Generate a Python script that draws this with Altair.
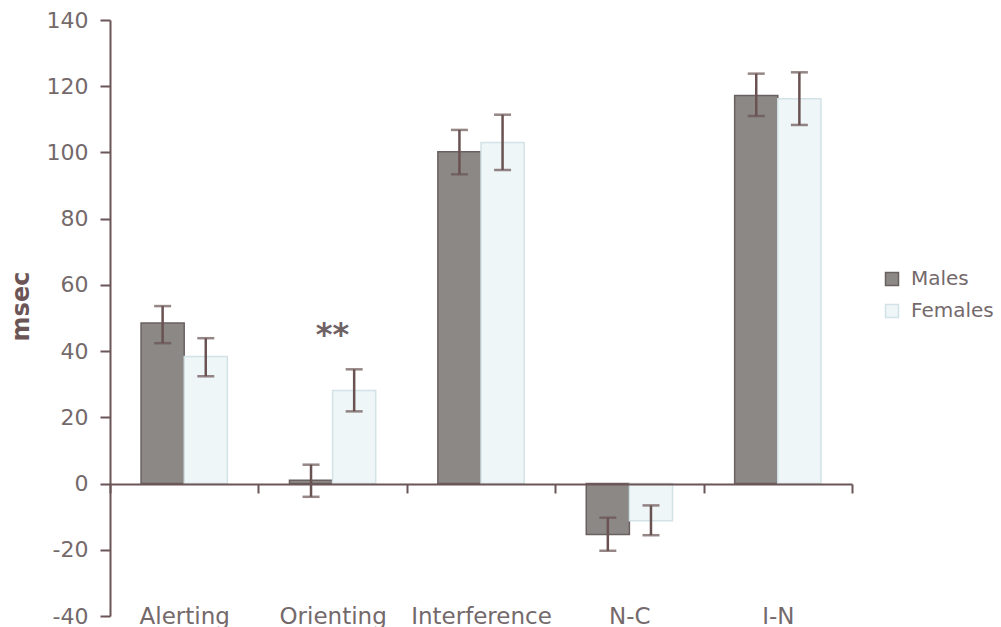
import altair as alt
import pandas as pd

categories = ["Alerting", "Orienting", "Interference", "N-C", "I-N"]
groups = ["Males", "Females"]
males = [48.5, 1.0, 100.2, -15.4, 117.2]
males_lo = [42.4, -4.0, 93.4, -20.3, 111.0]
males_hi = [53.6, 5.7, 106.8, -10.3, 123.8]
females = [38.4, 28.1, 103.0, -11.2, 116.2]
females_lo = [32.4, 21.8, 94.7, -15.6, 108.3]
females_hi = [43.9, 34.5, 111.4, -6.6, 124.2]
y_ticks = [-40, -20, 0, 20, 40, 60, 80, 100, 120, 140]
star_task = ["Orienting"]
star_text = ["**"]
star_y = [45]

rows = []
for i, c in enumerate(categories):
    rows.append({"Task": c, "Sex": "Males", "value": males[i], "lo": males_lo[i], "hi": males_hi[i]})
    rows.append({"Task": c, "Sex": "Females", "value": females[i], "lo": females_lo[i], "hi": females_hi[i]})
df = pd.DataFrame(rows)
stars = pd.DataFrame({"Task": star_task, "text": star_text, "value": star_y})

FONT = "DejaVu Sans"
AX = "#6b5556"
LAB = "#74696b"

xaxis = alt.Axis(orient="bottom", offset=-132, tickBand="extent", tickSize=9, tickWidth=2,
                 tickColor=AX, domainColor=AX, domainWidth=2, labelPadding=130,
                 labelBaseline="alphabetic", labelFontSize=23, labelFont=FONT,
                 labelColor=LAB, labelAngle=0, title=None, zindex=1, grid=False)
X = alt.X("Task:N", sort=categories, scale=alt.Scale(paddingInner=0, paddingOuter=0), axis=xaxis)
XO = alt.XOffset("Sex:N", sort=groups, scale=alt.Scale(paddingInner=0, paddingOuter=0.72))

yaxis = alt.Axis(values=y_ticks, tickSize=10, tickWidth=2, tickColor=AX, domainColor=AX,
                 domainWidth=2, labelPadding=12, labelFontSize=22, labelFont=FONT,
                 labelColor=LAB, grid=False, title="msec", titleFontSize=24,
                 titleFont=FONT, titleFontWeight="bold", titleColor=AX,
                 titleX=-89, titleY=286, titleAngle=270, titleBaseline="middle",
                 labelExpr="'' + datum.value")
yscale = alt.Scale(domain=[-40, 140], nice=False)


def Y(field):
    return alt.Y(f"{field}:Q", scale=yscale, axis=yaxis)


legend = alt.Legend(orient="none", legendX=772, legendY=249, title=None, labelFontSize=20,
                    labelFont=FONT, labelColor=LAB, symbolType="square", symbolSize=169,
                    labelOffset=9, rowPadding=12, symbolStrokeWidth=1.5, labelLimit=300)

fill = alt.Fill("Sex:N", sort=groups, scale=alt.Scale(domain=groups, range=["#8b8886", "#eef6f7"]), legend=legend)
stroke = alt.Stroke("Sex:N", sort=groups, scale=alt.Scale(domain=groups, range=["#6a6060", "#d3e2e6"]), legend=legend)

base = alt.Chart(df).encode(x=X, xOffset=XO)

bars = base.mark_bar(strokeWidth=1.5).encode(y=Y("value"), y2=alt.datum(0), fill=fill, stroke=stroke)
rule = base.mark_rule(color="#6a5252", strokeWidth=2.5).encode(y=Y("lo"), y2="hi:Q")
cap_lo = base.mark_tick(color="#6a5252", orient="horizontal", size=17, thickness=2.5).encode(y=Y("lo"))
cap_hi = base.mark_tick(color="#6a5252", orient="horizontal", size=17, thickness=2.5).encode(y=Y("hi"))
star = alt.Chart(stars).mark_text(fontSize=32, font=FONT, color="#6e6264", baseline="middle",
                                  fontWeight="bold").encode(x=X, y=Y("value"), text="text:N")

chart = alt.layer(bars, rule, cap_lo, cap_hi, star).properties(
    width=742, height=596,
    autosize=alt.AutoSizeParams(type="none"),
    padding={"left": 102, "top": 12, "right": 141, "bottom": 11},
    background="white",
).configure_view(stroke=None)

chart.save("out.html", embed_options={"renderer": "svg", "actions": False})
